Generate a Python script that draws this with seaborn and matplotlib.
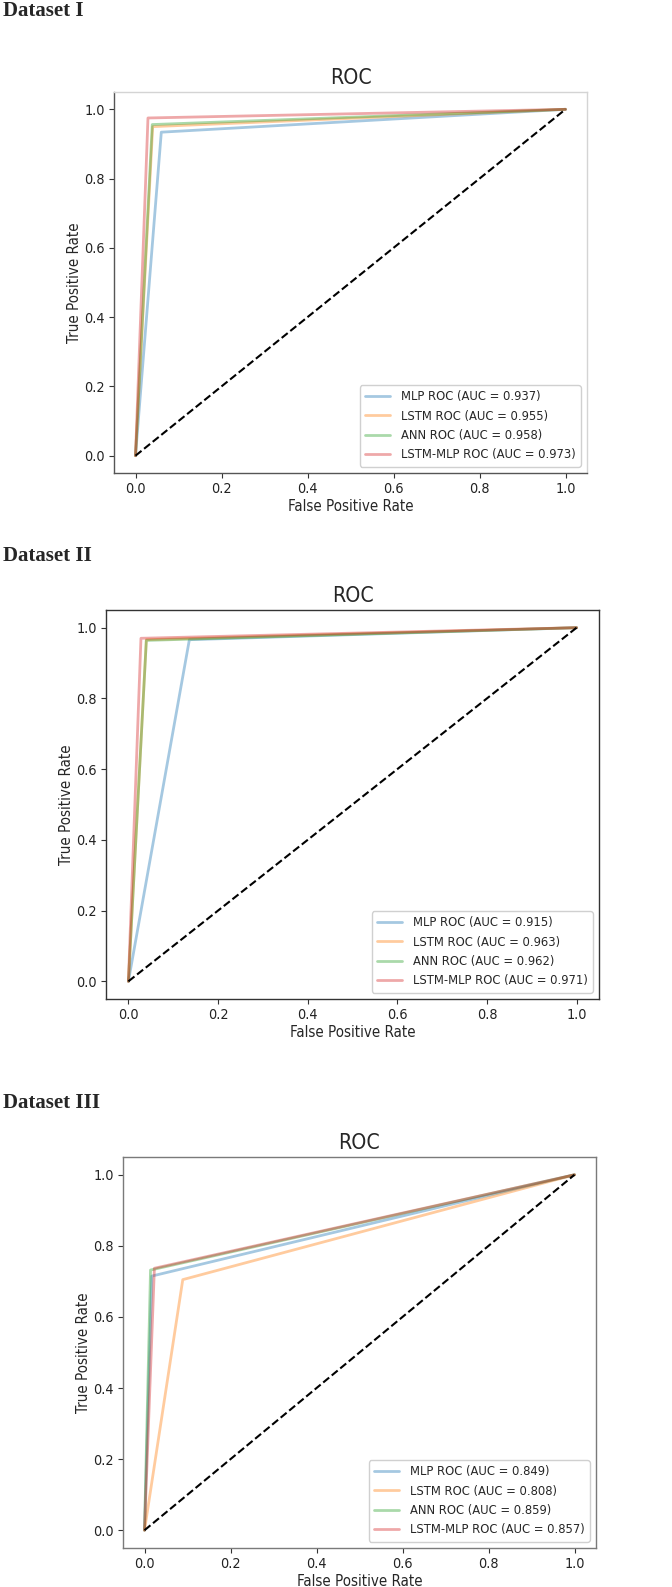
import numpy as np
import pandas as pd
import matplotlib
matplotlib.use("Agg")
import matplotlib.pyplot as plt
from matplotlib import font_manager
import seaborn as sns

# ROC operating points: each curve runs (0,0) -> (fpr, tpr) -> (1,1)
models = ["MLP", "LSTM", "ANN", "LSTM-MLP"]
colors = ["#1f77b4", "#ff7f0e", "#2ca02c", "#d62728"]

# Dataset I
auc_1 = [0.937, 0.955, 0.958, 0.973]
fpr_1 = [0.060, 0.040, 0.039, 0.029]
tpr_1 = [0.934, 0.950, 0.956, 0.975]

# Dataset II
auc_2 = [0.915, 0.963, 0.962, 0.971]
fpr_2 = [0.136, 0.040, 0.040, 0.028]
tpr_2 = [0.966, 0.966, 0.964, 0.970]

# Dataset III
auc_3 = [0.849, 0.808, 0.859, 0.857]
fpr_3 = [0.017, 0.089, 0.014, 0.023]
tpr_3 = [0.715, 0.705, 0.732, 0.737]

chance = [0, 1]

headers = ["Dataset I", "Dataset II", "Dataset III"]

sns.set_style("ticks")
plt.rcParams["font.family"] = ["DejaVu Sans"]

# the source image text is a bit tall for its width, use the condensed cut if it is there
condensed = any(f.name == "DejaVu Sans" and f.stretch == "condensed"
                for f in font_manager.fontManager.ttflist)
stretch = "condensed" if condensed else "normal"
k = 1.1 if condensed else 1.0
plt.rcParams["font.stretch"] = stretch

W, H = 672, 1587
fig = plt.figure(figsize=(W / 100, H / 100), dpi=100)

# axes boxes in pixels: left, top, right, bottom
boxes = [(114, 92, 587, 473), (106, 610, 599, 999), (123, 1157, 596, 1548)]
header_y = [11, 556, 1103]
spine_cols = [
    {"left": "#555555", "bottom": "#555555", "top": "#d4d4d4", "right": "#d4d4d4"},
    {"left": "#333333", "bottom": "#333333", "top": "#333333", "right": "#333333"},
    {"left": "#7a7a7a", "bottom": "#7a7a7a", "top": "#7a7a7a", "right": "#7a7a7a"},
]

panels = [(auc_1, fpr_1, tpr_1), (auc_2, fpr_2, tpr_2), (auc_3, fpr_3, tpr_3)]

for i, (auc, fpr, tpr) in enumerate(panels):
    l, t, r, b = boxes[i]
    ax = fig.add_axes([l / W, 1 - b / H, (r - l) / W, (b - t) / H])

    # long-form table, one row per curve point
    rows = []
    for m, a, f, tp in zip(models, auc, fpr, tpr):
        label = f"{m} ROC (AUC = {a:.3f})"
        for x, y in zip([0, f, 1], [0, tp, 1]):
            rows.append({"fpr": x, "tpr": y, "model": label})
    df = pd.DataFrame(rows)

    sns.lineplot(data=df, x="fpr", y="tpr", hue="model", palette=colors,
                 sort=False, estimator=None, lw=2, alpha=0.4, ax=ax)
    ax.plot(chance, chance, "k--", lw=1.5)

    ax.set_xlim(-0.05, 1.05)
    ax.set_ylim(-0.05, 1.05)
    ax.set_xticks(np.arange(0, 1.01, 0.2))
    ax.set_yticks(np.arange(0, 1.01, 0.2))
    ax.tick_params(labelsize=9.3 * k, length=3.5, width=0.8, pad=3,
                   colors="#333333", labelcolor="#222222")

    ax.set_title("ROC", fontsize=13.8 * k, pad=6)
    ax.set_xlabel("False Positive Rate", fontsize=9.8 * k, labelpad=2)
    ax.set_ylabel("True Positive Rate", fontsize=9.8 * k, labelpad=1.5)

    for side, c in spine_cols[i].items():
        ax.spines[side].set_visible(True)
        ax.spines[side].set_color(c)
        ax.spines[side].set_linewidth(1.0)

    leg = ax.legend(loc="lower right", fontsize=8.4 * k, frameon=True,
                    fancybox=True, edgecolor="#d0d0d0", framealpha=1)
    for h in leg.get_lines():
        h.set_alpha(0.4)
        h.set_linewidth(2)

    fig.text(3 / W, 1 - header_y[i] / H, headers[i], fontsize=15,
             fontweight="bold", family="Liberation Serif", fontstretch="normal",
             va="center", ha="left")

fig.savefig("out.png", dpi=100)
